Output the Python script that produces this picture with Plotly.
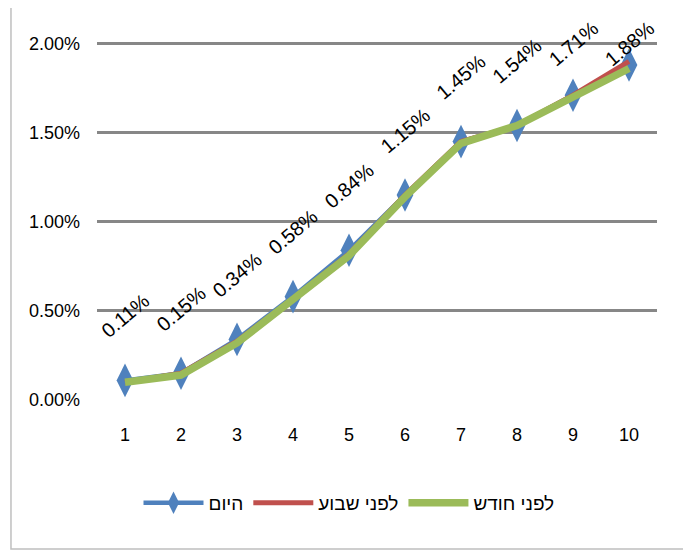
import plotly.graph_objects as go

categories = [1, 2, 3, 4, 5, 6, 7, 8, 9, 10]
today = [0.11, 0.15, 0.34, 0.58, 0.84, 1.15, 1.45, 1.54, 1.71, 1.88]
week_ago = [0.10, 0.15, 0.33, 0.57, 0.82, 1.15, 1.45, 1.54, 1.71, 1.90]
month_ago = [0.10, 0.14, 0.32, 0.56, 0.81, 1.14, 1.44, 1.54, 1.70, 1.86]
series_names = ["היום", "לפני שבוע", "לפני חודש"]
y_ticks = [0.0, 0.5, 1.0, 1.5, 2.0]

FONT = "Liberation Sans, Arial, sans-serif"

fig = go.Figure()
fig.add_trace(go.Scatter(
    x=categories, y=today, name=series_names[0], mode="lines+markers",
    line=dict(color="#4F81BD", width=4.5),
    marker=dict(symbol="diamond-tall", size=24, color="#4F81BD"),
    cliponaxis=False,
))
fig.add_trace(go.Scatter(
    x=categories, y=week_ago, name=series_names[1], mode="lines",
    line=dict(color="#C0504D", width=5), cliponaxis=False,
))
fig.add_trace(go.Scatter(
    x=categories, y=month_ago, name=series_names[2], mode="lines",
    line=dict(color="#9BBB59", width=7.5), cliponaxis=False,
))

for c, v in zip(categories, today):
    fig.add_annotation(
        x=c, y=min(v + 0.36, 2.0), xref="x", yref="y",
        text=f"{v:.2f}%", showarrow=False, textangle=-40,
        font=dict(family=FONT, size=20, color="#000000"),
    )

# outer chart border
fig.add_shape(type="rect", xref="paper", yref="paper",
              x0=-0.1536, x1=1.05, y0=-0.4140, y1=1.095,
              line=dict(color="#BFBFBF", width=1.5), layer="below")

fig.update_layout(
    width=691, height=552,
    margin=dict(l=89, r=42, t=32, b=160),
    paper_bgcolor="white", plot_bgcolor="white",
    font=dict(family=FONT, size=18, color="#000000"),
    showlegend=True,
    legend=dict(orientation="h", x=0.45, xanchor="center", y=-0.286, yanchor="middle",
                font=dict(family=FONT, size=19), traceorder="normal",
                itemwidth=60),
    xaxis=dict(range=[0.5, 10.5], tickvals=categories, ticktext=[str(c) for c in categories],
               showgrid=False, zeroline=False, showline=False, ticks="",
               tickfont=dict(size=18), ticklabelstandoff=22),
    yaxis=dict(range=[0, 2.02], tickvals=y_ticks, ticktext=[f"{t:.2f}%" for t in y_ticks],
               showgrid=True, gridcolor="#878787", gridwidth=2.5, zeroline=False,
               showline=False, ticks="", tickfont=dict(size=18), ticklabelstandoff=16),
)

fig.write_html("out.html")
